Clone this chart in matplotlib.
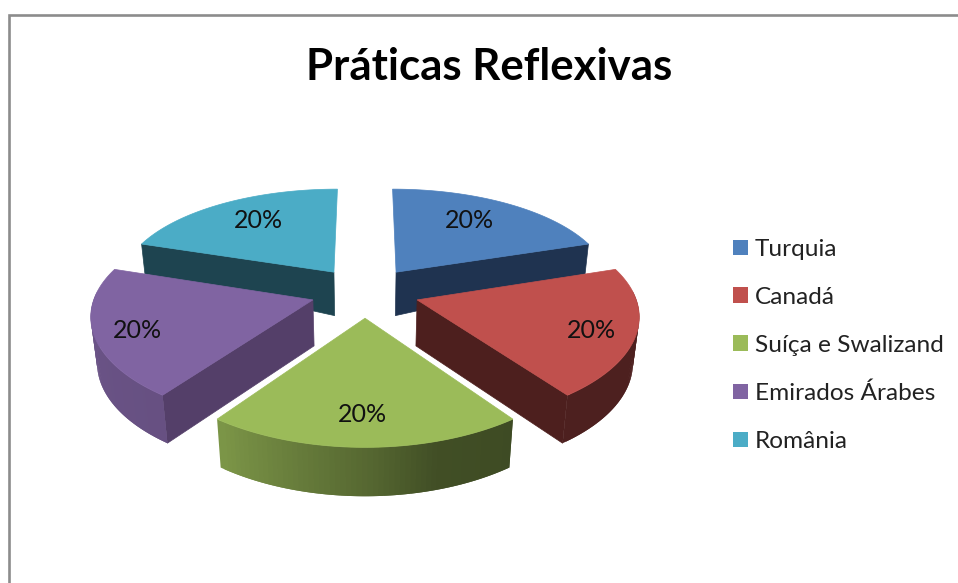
import numpy as np
import matplotlib
matplotlib.use("Agg")
import matplotlib.pyplot as plt
from matplotlib.patches import Patch, Polygon

title = "Práticas Reflexivas"
paises = ["Turquia", "Canadá", "Suíça e Swalizand", "Emirados Árabes", "România"]
valores = [20, 20, 20, 20, 20]
cores = ["#4F81BD", "#C0504D", "#9BBB59", "#8064A2", "#4BACC6"]
cores_corte = ["#1F3350", "#4D1F1E", "#3F4C22", "#543F69", "#1E4450"]

# pie geometry, in pixels of the 958x583 picture
cx, cy = 365, 292
A, B = 217, 101
kx, ky = 0.13, 0.15
explode = 0.25
rotulo_xy = [(469, 220), (591, 330), (362, 414), (137, 330), (258, 220)]
ordem = [0, 4, 3, 1, 2]  # back to front


def proj(X, Y):
    return cx + A * X / (1 + kx * Y), cy - B * Y / (1 + ky * Y)


def base(X, Y):
    sx, sy = proj(X, Y)
    d = np.interp(Y, [-1.3, -0.08, 0.19, 0.5, 1.2], [49, 46, 44, 30, 20])
    return sx + (cx - sx) * 0.024 * d / 48, sy + d


def luz(t):
    return np.interp(t, [144, 165, 180, 216, 288], [0.4, 0.42, 0.55, 0.8, 0.85])


fig = plt.figure(figsize=(9.58, 5.83), dpi=100)
ax = fig.add_axes([0, 0, 1, 1])
ax.set_xlim(0, 958)
ax.set_ylim(583, 0)
ax.axis("off")

ax.plot([9.5, 9.5, 958], [583, 15, 15], color="#8C8C8C", lw=1.9, solid_joinstyle="miter")

total = sum(valores)
fim = np.cumsum(valores) / total * 360
ini = np.r_[0, fim[:-1]]

for i in ordem:
    t0, t1 = ini[i], fim[i]
    meio = np.radians((t0 + t1) / 2)
    ox, oy = explode * np.sin(meio), explode * np.cos(meio)
    rgb = np.array(matplotlib.colors.to_rgb(cores[i]))

    # cut faces turned to the viewer
    for t, ok in [(t0, t0 > 180), (t1, 0 < t1 < 180)]:
        if ok:
            r = np.radians(t)
            X, Y = ox + np.sin(r), oy + np.cos(r)
            pts = [proj(ox, oy), proj(X, Y), base(X, Y), base(ox, oy)]
            ax.add_patch(Polygon(pts, fc=cores_corte[i], ec=cores_corte[i], lw=0.5))

    # outer wall, overlapping strips so no seams show
    a0, a1 = max(t0, 85), min(t1, 275)
    if a1 > a0:
        ts = np.linspace(a0, a1, 60)
        for j in range(len(ts) - 1):
            ra, rb = np.radians([ts[max(j - 1, 0)], ts[j + 1]])
            Xa, Ya = ox + np.sin(ra), oy + np.cos(ra)
            Xb, Yb = ox + np.sin(rb), oy + np.cos(rb)
            cor = rgb * luz((ts[j] + ts[j + 1]) / 2)
            ax.add_patch(Polygon([proj(Xa, Ya), proj(Xb, Yb), base(Xb, Yb), base(Xa, Ya)],
                                 fc=cor, ec="none"))

    # top
    ts = np.radians(np.linspace(t0, t1, 60))
    topo = [proj(ox, oy)] + [proj(ox + np.sin(t), oy + np.cos(t)) for t in ts]
    ax.add_patch(Polygon(topo, fc=cores[i], ec=cores[i], lw=0.5))

for (x, y), v in zip(rotulo_xy, valores):
    ax.text(x, y, f"{v}%", ha="center", va="center", fontsize=18, family="Lato", color="#111111")

ax.text(489, 67, title, ha="center", va="center", fontsize=31.5, fontweight="bold",
        family="Lato", color="black")

handles = [Patch(fc=c, ec="none") for c in cores]
ax.legend(handles, paises, loc="upper left", bbox_to_anchor=(728, 234),
          bbox_transform=ax.transData, frameon=False,
          prop={"family": "Lato", "size": 17.6}, labelcolor="#222222",
          handlelength=0.6, handleheight=0.6, handletextpad=0.3,
          labelspacing=1.1, borderpad=0.2, borderaxespad=0)

fig.savefig("out.png", dpi=100, facecolor="white")
